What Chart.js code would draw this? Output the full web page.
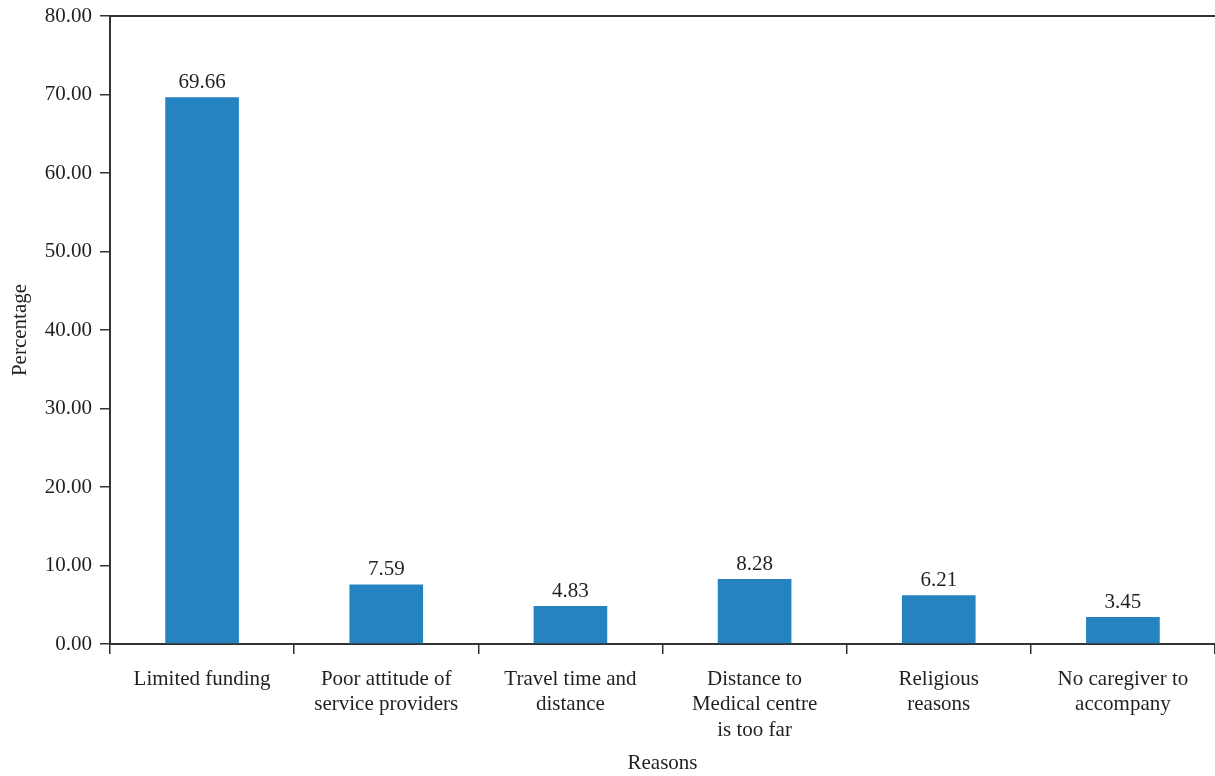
<!DOCTYPE html>
<html>
<head>
<meta charset="utf-8">
<script src="https://cdn.jsdelivr.net/npm/chart.js@4.4.1/dist/chart.umd.min.js"></script>
<style>
  html, body { margin: 0; padding: 0; background: #fff; }
  #wrap { width: 1215px; height: 776px; }
</style>
</head>
<body>
<div id="wrap"><canvas id="grafico" width="1215" height="776"></canvas></div>
<script>
const categorias = [
    'Limited funding',
    ['Poor attitude of', 'service providers'],
    ['Travel time and', 'distance'],
    ['Distance to', 'Medical centre', 'is too far'],
    ['Religious', 'reasons'],
    ['No caregiver to', 'accompany']
];
const percentuais = [69.66, 7.59, 4.83, 8.28, 6.21, 3.45];
const ticksY = [0, 10, 20, 30, 40, 50, 60, 70, 80];

const fonte = { family: '"Liberation Serif", "DejaVu Serif", serif', size: 21 };
const corTexto = '#231f20';
const corEixo = '#333';

// escreve o valor acima de cada barra
const rotulosValores = {
    id: 'rotulosValores',
    afterDatasetsDraw(chart) {
        const ctx = chart.ctx;
        const meta = chart.getDatasetMeta(0);
        ctx.save();
        ctx.font = `${fonte.size}px ${fonte.family}`;
        ctx.fillStyle = corTexto;
        ctx.textAlign = 'center';
        ctx.textBaseline = 'bottom';
        meta.data.forEach((barra, i) => {
            ctx.fillText(percentuais[i].toFixed(2), barra.x, barra.y - 4);
        });
        ctx.restore();
    }
};

new Chart(document.getElementById('grafico'), {
    type: 'bar',
    data: {
        labels: categorias,
        datasets: [{
            label: 'Percentage',
            data: percentuais,
            backgroundColor: 'rgb(38, 131, 194)',
            barPercentage: 0.4,
            categoryPercentage: 1
        }]
    },
    options: {
        responsive: false,
        animation: false,
        devicePixelRatio: 1,
        layout: { padding: { top: 16, right: 0, left: 0, bottom: 0 } },
        plugins: {
            legend: { display: false },
            tooltip: { enabled: false }
        },
        scales: {
            x: {
                position: 'bottom',
                grid: {
                    offset: true,
                    drawOnChartArea: false,
                    drawTicks: true,
                    tickLength: 10,
                    color: corEixo,
                    lineWidth: 1.5
                },
                border: { color: corEixo, width: 2 },
                ticks: {
                    color: corTexto,
                    font: fonte,
                    padding: 13,
                    maxRotation: 0,
                    autoSkip: false
                },
                title: {
                    display: true,
                    text: 'Reasons',
                    color: corTexto,
                    font: fonte,
                    padding: { top: 0, bottom: 0 }
                },
                afterFit(escala) { escala.height = 132; }
            },
            x2: {
                position: 'top',
                grid: { display: false },
                ticks: { display: false },
                border: { display: true, color: corEixo, width: 2 },
                afterFit(escala) { escala.height = 0; }
            },
            y: {
                min: 0,
                max: 80,
                afterBuildTicks(escala) {
                    escala.ticks = ticksY.map((v) => ({ value: v }));
                },
                grid: {
                    drawOnChartArea: false,
                    drawTicks: true,
                    tickLength: 10,
                    color: corEixo,
                    lineWidth: 1.5
                },
                border: { color: corEixo, width: 2 },
                ticks: {
                    color: corTexto,
                    font: fonte,
                    padding: 8,
                    callback: (v) => Number(v).toFixed(2)
                },
                title: {
                    display: true,
                    text: 'Percentage',
                    color: corTexto,
                    font: fonte,
                    padding: { top: 8, bottom: 0 }
                },
                afterFit(escala) {
                    escala.width = 110;
                    escala.paddingTop = 0;
                    escala.paddingBottom = 0;
                }
            }
        }
    },
    plugins: [rotulosValores]
});
</script>
</body>
</html>
